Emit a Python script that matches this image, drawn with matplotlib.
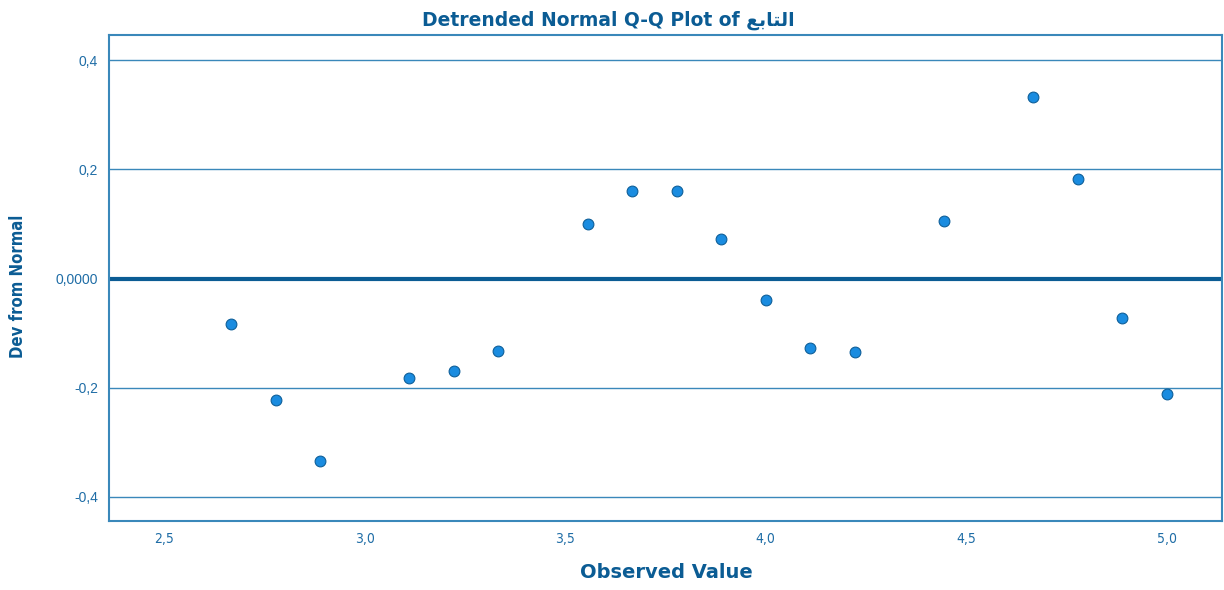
import numpy as np
import matplotlib.pyplot as plt

# valores
observed = [2.667, 2.778, 2.889, 3.111, 3.222, 3.333, 3.556, 3.667, 3.778,
            3.889, 4.0, 4.111, 4.222, 4.444, 4.667, 4.778, 4.889, 5.0]
dev_normal = [-0.084, -0.222, -0.334, -0.182, -0.169, -0.132, 0.099, 0.161, 0.160,
              0.072, -0.039, -0.128, -0.134, 0.105, 0.332, 0.182, -0.073, -0.211]
xticks = [2.5, 3.0, 3.5, 4.0, 4.5, 5.0]
xlabels = ['2,5', '3,0', '3,5', '4,0', '4,5', '5,0']
yticks = [-0.4, -0.2, 0.0, 0.2, 0.4]
ylabels = ['-0,4', '-0,2', '0,0000', '0,2', '0,4']

# "التابع" en formas de presentacion, orden visual
arabic = '\ufeca\ufe91\ufe8e\ufe98\ufedf\ufe8d'

txt = '#1f6da6'
dark = '#0b5c94'
line = '#3a88ba'

fig = plt.figure(figsize=(12.24, 5.9), dpi=100)
ax = fig.add_axes([109 / 1224, 1 - 521 / 590, (1222 - 109) / 1224, (521 - 35) / 590])

for y in [-0.4, -0.2, 0.2, 0.4]:
    ax.axhline(y, color=line, lw=1.0, zorder=1)
ax.axhline(0, color=dark, lw=3.0, zorder=2)

ax.scatter(observed, dev_normal, s=60, color='#1a8ce0', edgecolor='#0e5f99',
           linewidth=0.8, zorder=3)

ax.set_xlim(2.363, 5.137)
ax.set_ylim(-0.444, 0.446)
ax.set_xticks(xticks)
ax.set_xticklabels(xlabels, fontsize=10, color=txt, family='DejaVu Sans', fontstretch='condensed')
ax.set_yticks(yticks)
ax.set_yticklabels(ylabels, fontsize=10, color=txt, family='Liberation Sans')
ax.tick_params(length=0)
ax.tick_params(axis='x', pad=8)
ax.tick_params(axis='y', pad=8)

for s in ax.spines.values():
    s.set_color(line)
    s.set_linewidth(1.5)

fig.text(0.497, 0.965, 'Detrended Normal Q-Q Plot of ' + arabic, ha='center', va='center',
         fontsize=13.5, fontweight='bold', color=dark, family='DejaVu Sans')
fig.text(666 / 1224, 1 - 572 / 590, 'Observed Value', ha='center', va='center',
         fontsize=14, fontweight='bold', color=dark, family='DejaVu Sans')
fig.text(18 / 1224, 1 - 286 / 590, 'Dev from Normal', ha='center', va='center', rotation=90,
         fontsize=12, fontweight='bold', color=dark, family='DejaVu Sans', fontstretch='condensed')

fig.savefig('out.png', dpi=100, facecolor='white')
